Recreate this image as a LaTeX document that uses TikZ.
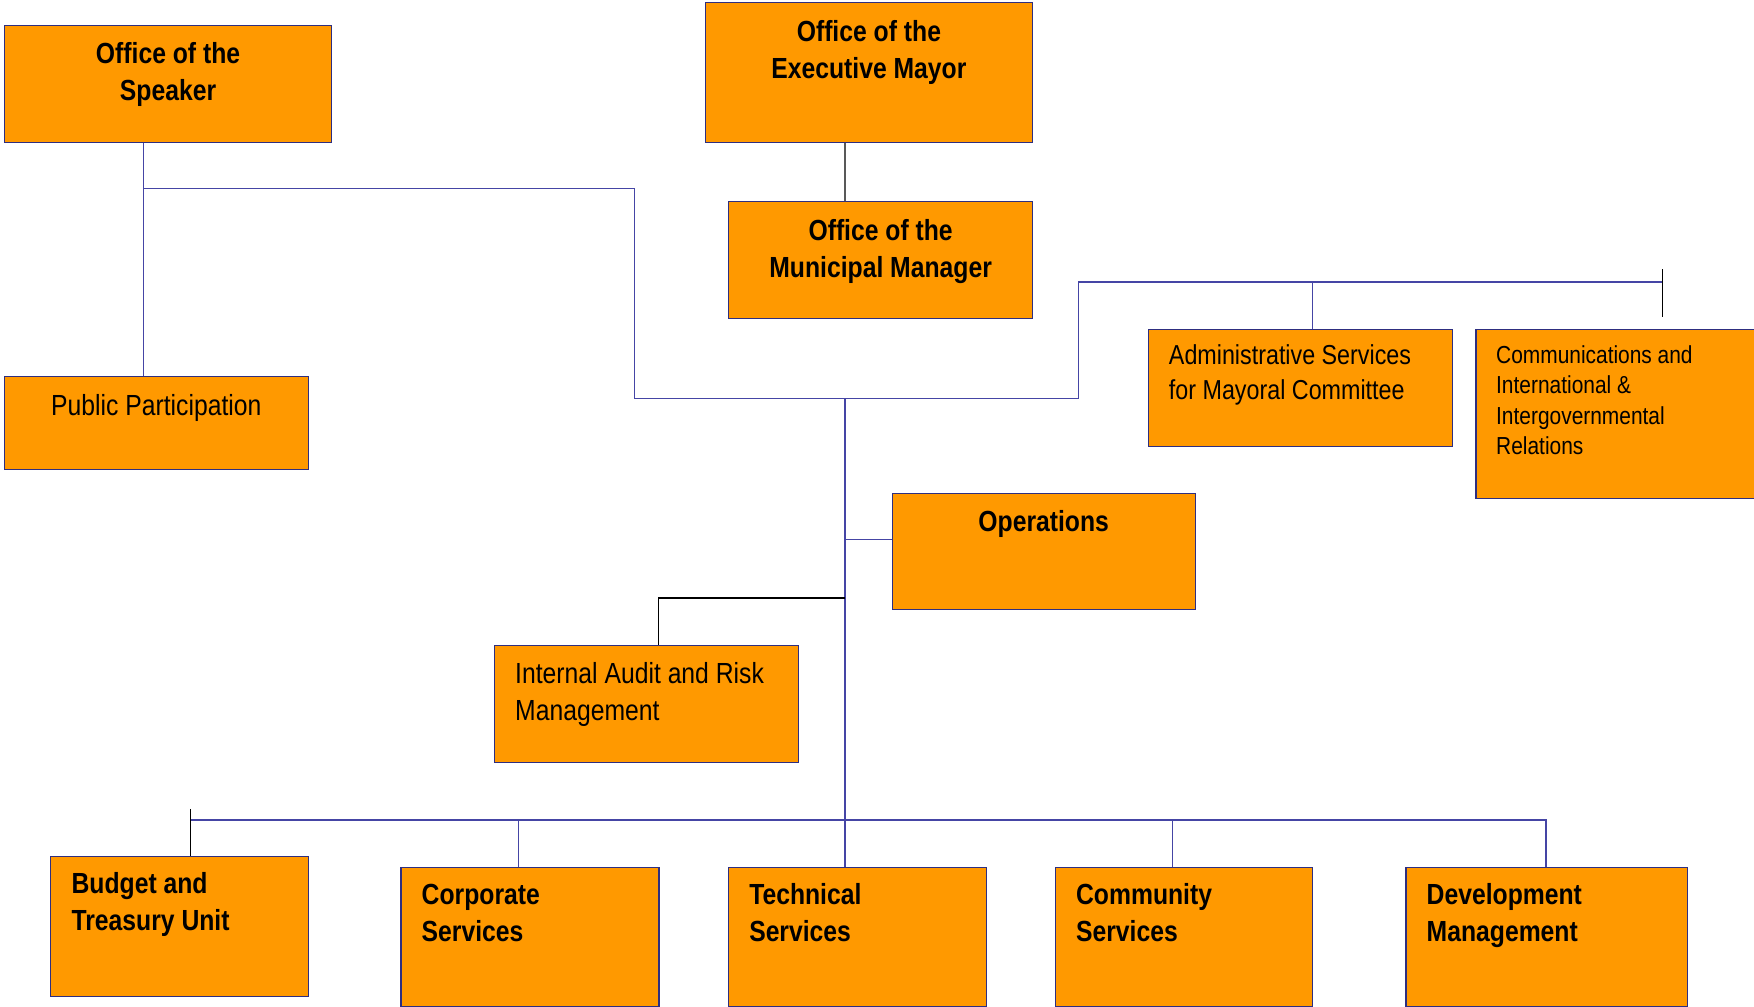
\documentclass[tikz,border=0pt]{standalone}
\usepackage{fontspec}
\setmainfont{Liberation Sans}[FakeStretch=0.85]
\definecolor{unitfill}{HTML}{FF9900}
\definecolor{unitline}{HTML}{2E2E80}
\definecolor{linkblue}{HTML}{4545A5}
% box text: width, height, format, first baseline, text
\newcommand{\unitbox}[5]{\parbox[t][#2pt][t]{#1pt}{#3\rule{0pt}{#4pt}#5}}
\newcommand{\boldmid}{\fontsize{26}{33}\selectfont\bfseries\centering}
\newcommand{\plainmid}{\fontsize{26}{33}\selectfont\centering}
\newcommand{\boldleft}{\fontsize{26}{33}\selectfont\bfseries\raggedright\leftskip=18.5pt}
\newcommand{\plainleft}{\fontsize{26}{33.4}\selectfont\raggedright\leftskip=18.5pt}
\begin{document}
\begin{tikzpicture}
[x=1pt,y=-1pt,
unit/.style={draw=unitline,fill=unitfill,line width=1pt,inner sep=0pt,anchor=north west},
link/.style={draw=linkblue,line width=1.1pt},
tick/.style={draw=black,line width=1.1pt}]
\useasboundingbox (0,0) rectangle (1568,900);
% top
\node[unit] (speaker) at (3.5,22.5) {\unitbox{292.5}{104}{\boldmid}{34}{Office of the\\Speaker}};
\node[unit] (mayor) at (630,1.5) {\unitbox{292.5}{125}{\boldmid}{35}{Office of the\\Executive Mayor}};
\node[unit] (mm) at (651,179.7) {\unitbox{271.5}{104.5}{\boldmid}{35}{Office of the\\Municipal Manager}};
\node[unit] (pp) at (3.5,336) {\unitbox{271.5}{83.5}{\plainmid}{35}{Public Participation}};
\node[unit] (adm) at (1026,294) {\unitbox{272}{104.5}{\fontsize{24.5}{30.7}\selectfont\raggedright\leftskip=18.5pt}{31.6}{Administrative Services\\for Mayoral Committee}};
\node[unit] (com) at (1319,294) {\unitbox{262}{151.5}{\fontsize{22}{27.2}\selectfont\raggedright\leftskip=18pt}{30.4}{Communications and\\International \&\\Intergovernmental\\Relations}};
% middle
\node[unit] (ops) at (797,440.4) {\unitbox{271}{104}{\boldmid}{34.3}{Operations}};
\node[unit] (aud) at (441.6,576.6) {\unitbox{271.8}{104.8}{\plainleft}{33.7}{Internal Audit and Risk\\Management}};
% departments
\node[unit] (bud) at (45,765) {\unitbox{230}{125.4}{\boldleft}{33.6}{Budget and\\Treasury Unit}};
\node[unit] (cor) at (358,775) {\unitbox{230.6}{124.5}{\boldleft}{33.4}{Corporate\\Services}};
\node[unit] (tec) at (650.8,775) {\unitbox{230.2}{124.5}{\boldleft}{33.4}{Technical\\Services}};
\node[unit] (cmy) at (943,775) {\unitbox{230}{124.5}{\boldleft}{33.4}{Community\\Services}};
\node[unit] (dev) at (1256.4,775) {\unitbox{251.3}{124.5}{\boldleft}{33.4}{Development\\Management}};

\coordinate (spkj) at (128.6,168.5);
\coordinate (turn) at (567,356.5);
\coordinate (hub) at (755.4,356.5);
\coordinate (mayj) at (964,252);
\coordinate (admj) at (1173.5,252);
\coordinate (mayend) at (1486,252);
\coordinate (opsj) at (755.4,482);
\coordinate (audj) at (755.4,534.6);
\coordinate (audt) at (588.9,534.6);
\coordinate (busl) at (170.4,733);
\coordinate (corj) at (463.4,733);
\coordinate (busm) at (755.4,733);
\coordinate (cmyj) at (1048,733);
\coordinate (busr) at (1382,733);

% connectors
\draw[link] (spkj |- speaker.south) -- (spkj |- pp.north);
\draw[link] (spkj) -| (turn) -| (mayj) -- (mayend);
\draw[tick] ([yshift=11.4pt]mayend) -- ([yshift=-31pt]mayend);
\draw[link] (admj) -- (admj |- adm.north);
\draw[draw=black!65,line width=1.1pt] (hub |- mayor.south) -- (hub |- mm.north);
\draw[link] (hub) -- (busm |- tec.north);
\draw[link] (opsj) -- (opsj -| ops.west);
\draw[tick] (audj) -- (audt) -- (audt |- aud.north);
\draw[link] (busl) -- (busr) -- (busr |- dev.north);
\draw[tick] ([yshift=10pt]busl) -- (busl |- bud.north);
\draw[link] (corj) -- (corj |- cor.north);
\draw[link] (cmyj) -- (cmyj |- cmy.north);
\end{tikzpicture}
\end{document}
